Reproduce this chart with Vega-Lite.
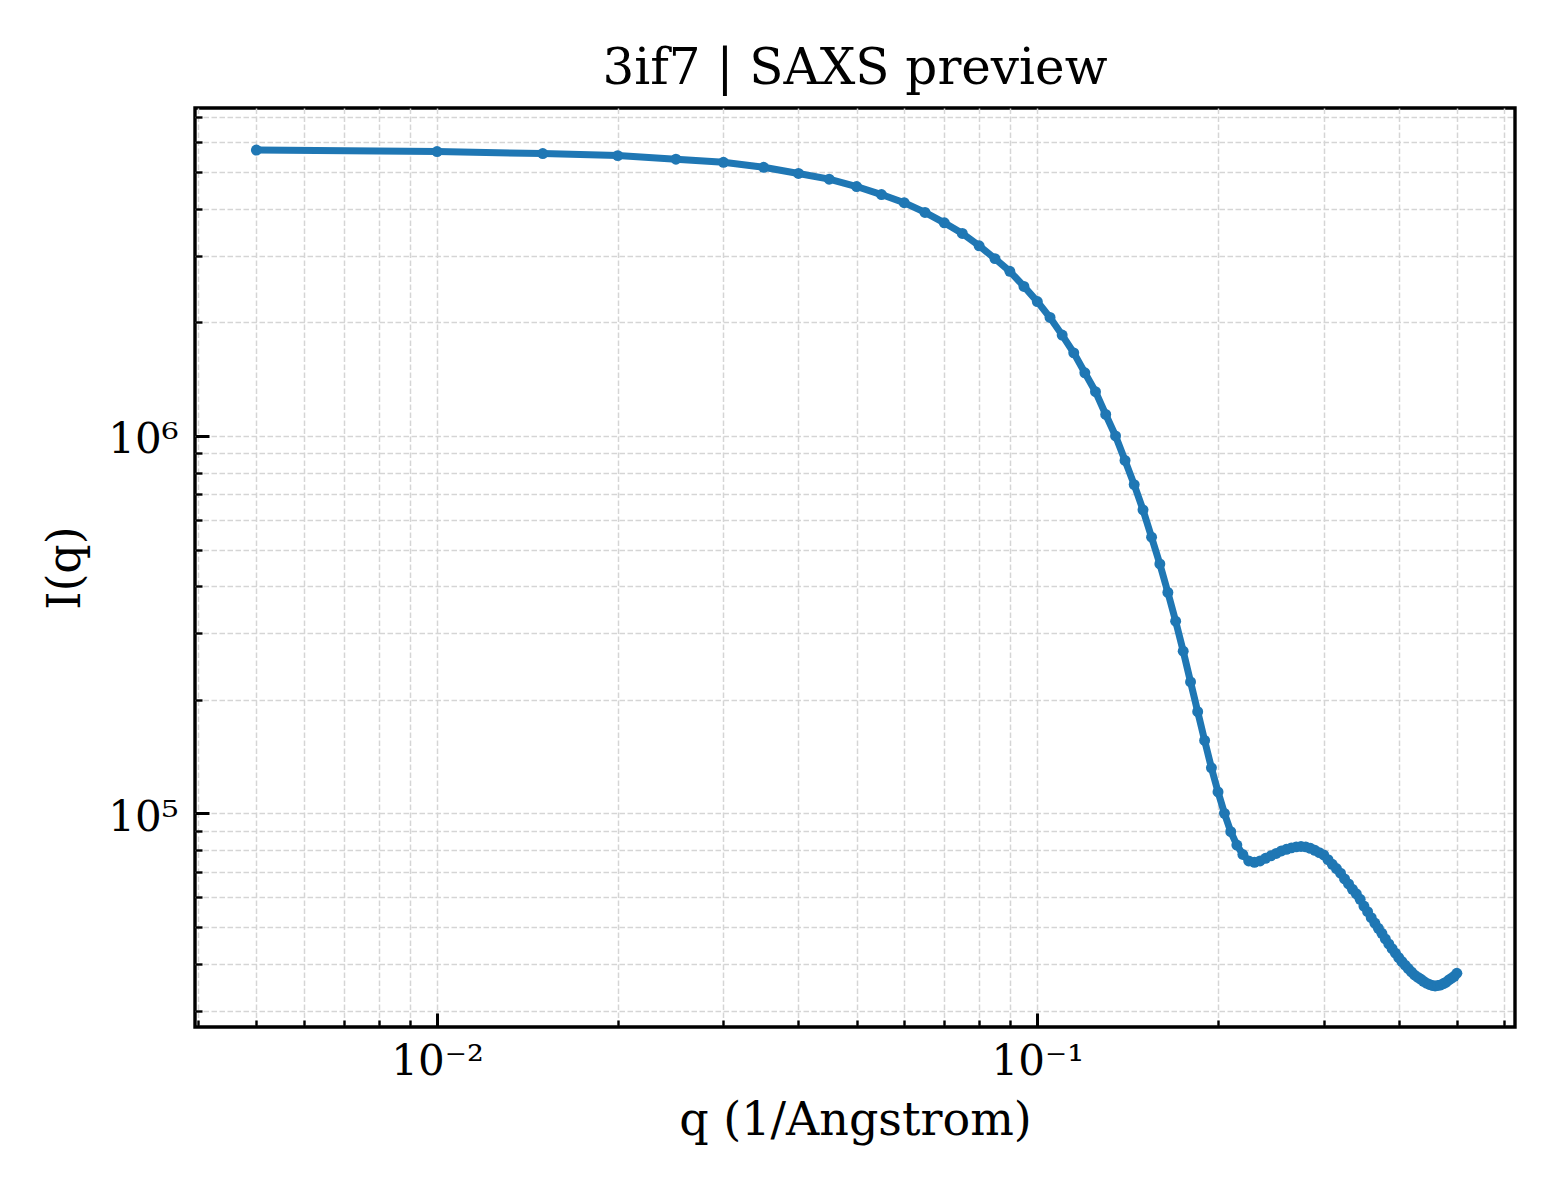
{
  "$schema": "https://vega.github.io/schema/vega-lite/v6.json",
  "width": 1320,
  "height": 919,
  "autosize": "none",
  "padding": {"left": 195, "top": 108, "right": 45, "bottom": 173},
  "background": "white",
  "title": {
    "text": "3if7 | SAXS preview",
    "font": "DejaVu Serif",
    "fontSize": 50,
    "fontWeight": "normal",
    "color": "black",
    "anchor": "middle",
    "offset": 14
  },
  "datasets": {
    "saxs": [
      {"q": 0.005, "I": 5720000}, {"q": 0.01, "I": 5670000}, {"q": 0.015, "I": 5600000},
      {"q": 0.02, "I": 5530000}, {"q": 0.025, "I": 5410000}, {"q": 0.03, "I": 5310000},
      {"q": 0.035, "I": 5150000}, {"q": 0.04, "I": 4960000}, {"q": 0.045, "I": 4790000},
      {"q": 0.05, "I": 4580000}, {"q": 0.055, "I": 4360000}, {"q": 0.06, "I": 4150000},
      {"q": 0.065, "I": 3910000}, {"q": 0.07, "I": 3670000}, {"q": 0.075, "I": 3440000},
      {"q": 0.08, "I": 3190000}, {"q": 0.085, "I": 2950000}, {"q": 0.09, "I": 2730000},
      {"q": 0.095, "I": 2490000}, {"q": 0.1, "I": 2270000}, {"q": 0.105, "I": 2060000},
      {"q": 0.11, "I": 1850000}, {"q": 0.115, "I": 1660000}, {"q": 0.12, "I": 1470000},
      {"q": 0.125, "I": 1310000}, {"q": 0.13, "I": 1140000}, {"q": 0.135, "I": 1000000},
      {"q": 0.14, "I": 861000}, {"q": 0.145, "I": 743000}, {"q": 0.15, "I": 637000},
      {"q": 0.155, "I": 539000}, {"q": 0.16, "I": 458000}, {"q": 0.165, "I": 385000},
      {"q": 0.17, "I": 323000}, {"q": 0.175, "I": 269000}, {"q": 0.18, "I": 223000},
      {"q": 0.185, "I": 186000}, {"q": 0.19, "I": 156000}, {"q": 0.195, "I": 132000},
      {"q": 0.2, "I": 114000}, {"q": 0.205, "I": 100000}, {"q": 0.21, "I": 89400},
      {"q": 0.215, "I": 82400}, {"q": 0.22, "I": 77800}, {"q": 0.225, "I": 74800},
      {"q": 0.23, "I": 74200}, {"q": 0.235, "I": 74800}, {"q": 0.24, "I": 76000},
      {"q": 0.245, "I": 77200}, {"q": 0.25, "I": 78300}, {"q": 0.255, "I": 79500},
      {"q": 0.26, "I": 80300}, {"q": 0.265, "I": 81000}, {"q": 0.27, "I": 81500},
      {"q": 0.275, "I": 81700}, {"q": 0.28, "I": 81500}, {"q": 0.285, "I": 80800},
      {"q": 0.29, "I": 79800}, {"q": 0.295, "I": 78700}, {"q": 0.3, "I": 77600},
      {"q": 0.305, "I": 75400}, {"q": 0.31, "I": 73300}, {"q": 0.315, "I": 71400},
      {"q": 0.32, "I": 69400}, {"q": 0.325, "I": 67000}, {"q": 0.33, "I": 65000},
      {"q": 0.335, "I": 62900}, {"q": 0.34, "I": 61200}, {"q": 0.345, "I": 59200},
      {"q": 0.35, "I": 56800}, {"q": 0.355, "I": 54900}, {"q": 0.36, "I": 52900},
      {"q": 0.365, "I": 51200}, {"q": 0.37, "I": 49600}, {"q": 0.375, "I": 48100},
      {"q": 0.38, "I": 46500}, {"q": 0.385, "I": 45100}, {"q": 0.39, "I": 43800},
      {"q": 0.395, "I": 42600}, {"q": 0.4, "I": 41500}, {"q": 0.405, "I": 40500},
      {"q": 0.41, "I": 39600}, {"q": 0.415, "I": 38800}, {"q": 0.42, "I": 38000},
      {"q": 0.425, "I": 37300}, {"q": 0.43, "I": 36800}, {"q": 0.435, "I": 36400},
      {"q": 0.44, "I": 35900}, {"q": 0.445, "I": 35500}, {"q": 0.45, "I": 35200},
      {"q": 0.455, "I": 35000}, {"q": 0.46, "I": 34900}, {"q": 0.465, "I": 35000},
      {"q": 0.47, "I": 35100}, {"q": 0.475, "I": 35400}, {"q": 0.48, "I": 35700},
      {"q": 0.485, "I": 36200}, {"q": 0.49, "I": 36600}, {"q": 0.495, "I": 37000},
      {"q": 0.5, "I": 37700}
    ]
  },
  "data": {"name": "saxs"},
  "layer": [
    {
      "mark": {"type": "line", "color": "#1f77b4", "strokeWidth": 7},
      "encoding": {
        "x": {
          "field": "q",
          "type": "quantitative",
          "scale": {"type": "log", "domain": [0.003951, 0.6249], "nice": false},
          "axis": {
            "orient": "bottom",
            "values": [0.01, 0.1],
            "labelExpr": "datum.value < 0.05 ? '10⁻²' : '10⁻¹'",
            "grid": true,
            "tickSize": -14,
            "tickWidth": 3,
            "labelPadding": 28,
            "title": "q (1/Angstrom)",
            "titlePadding": 16
          }
        },
        "y": {
          "field": "I",
          "type": "quantitative",
          "scale": {"type": "log", "domain": [27160, 7394000], "nice": false},
          "axis": {
            "orient": "left",
            "values": [100000, 1000000],
            "labelExpr": "datum.value < 500000 ? '10⁵' : '10⁶'",
            "grid": true,
            "tickSize": -14,
            "tickWidth": 3,
            "labelPadding": 31,
            "labelOffset": 4,
            "title": "I(q)",
            "titlePadding": 18
          }
        }
      }
    },
    {
      "mark": {"type": "point", "filled": true, "color": "#1f77b4", "size": 120, "opacity": 1},
      "encoding": {
        "x": {
          "field": "q",
          "type": "quantitative",
          "scale": {"type": "log", "domain": [0.003951, 0.6249], "nice": false},
          "axis": {
            "orient": "bottom",
            "values": [0.004, 0.005, 0.006, 0.007, 0.008, 0.009, 0.02, 0.03, 0.04, 0.05, 0.06, 0.07, 0.08, 0.09, 0.2, 0.3, 0.4, 0.5, 0.6],
            "labels": false,
            "grid": true,
            "tickSize": -7,
            "tickWidth": 2.4,
            "title": null
          }
        },
        "y": {
          "field": "I",
          "type": "quantitative",
          "scale": {"type": "log", "domain": [27160, 7394000], "nice": false},
          "axis": {
            "orient": "left",
            "values": [30000, 40000, 50000, 60000, 70000, 80000, 90000, 200000, 300000, 400000, 500000, 600000, 700000, 800000, 900000, 2000000, 3000000, 4000000, 5000000, 6000000, 7000000],
            "labels": false,
            "grid": true,
            "tickSize": -7,
            "tickWidth": 2.4,
            "title": null
          }
        }
      }
    }
  ],
  "resolve": {"axis": {"x": "independent", "y": "independent"}},
  "config": {
    "view": {"stroke": "black", "strokeWidth": 3.4},
    "axis": {
      "domain": false,
      "gridColor": "#d5d5d5",
      "gridWidth": 1.5,
      "gridDash": [5.5, 2.5],
      "ticks": true,
      "tickColor": "black",
      "labelColor": "black",
      "labelFont": "DejaVu Serif",
      "labelFontSize": 42,
      "labelFlush": false,
      "labelOverlap": false,
      "titleFont": "DejaVu Serif",
      "titleFontSize": 46,
      "titleFontWeight": "normal",
      "titleColor": "black"
    }
  }
}
